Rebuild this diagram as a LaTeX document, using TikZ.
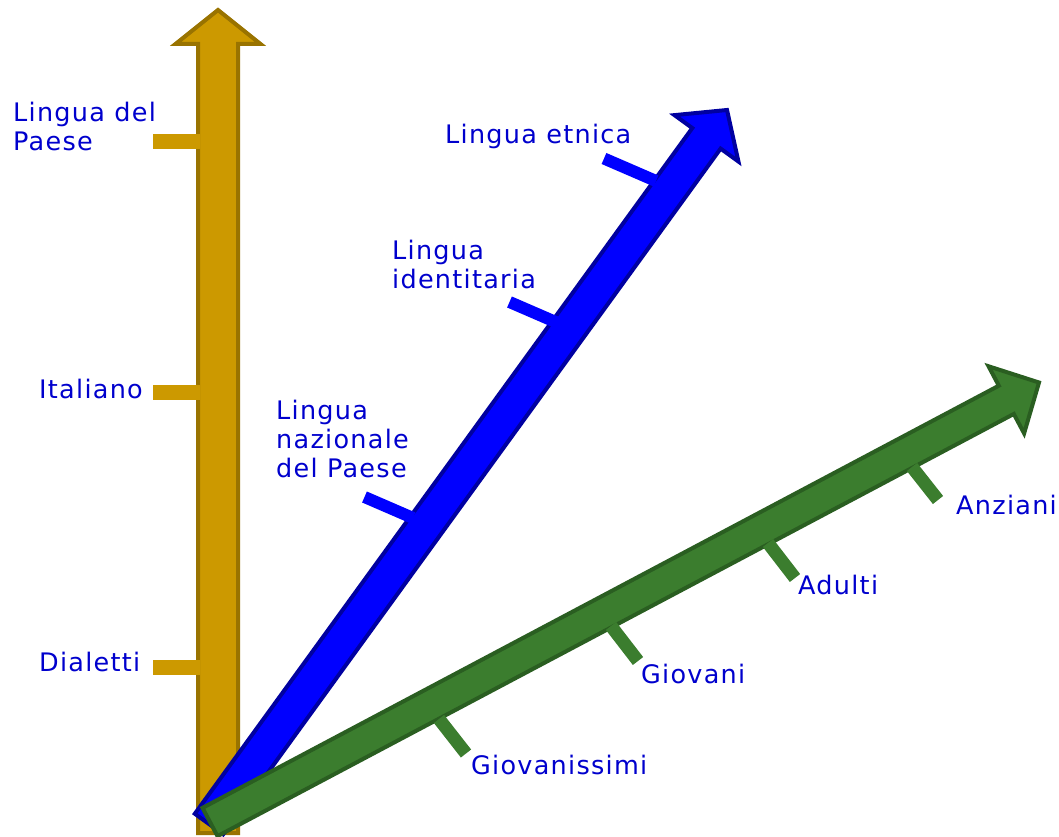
\documentclass[tikz,border=0pt]{standalone}
\usepackage{fontspec}
\setmainfont[LetterSpace=5]{DejaVu Sans}
\usetikzlibrary{calc}

\definecolor{goldfill}{RGB}{204,153,0}
\definecolor{goldline}{RGB}{153,115,0}
\definecolor{bluefill}{RGB}{0,0,255}
\definecolor{blueline}{RGB}{0,0,160}
\definecolor{greenfill}{RGB}{59,125,46}
\definecolor{greenline}{RGB}{42,94,33}
\definecolor{labelblue}{RGB}{0,0,205}

\tikzset{
  axislabel/.style={anchor=base west, inner sep=0pt, text=labelblue,
    font=\fontsize{25.5}{29}\selectfont, align=left},
  goldaxis/.style={fill=goldfill, draw=goldline, line width=4pt},
  blueaxis/.style={fill=bluefill, draw=blueline, line width=4pt},
  greenaxis/.style={fill=greenfill, draw=greenline, line width=4pt},
  goldtick/.style={draw=goldfill, line width=15pt},
  bluetick/.style={draw=bluefill, line width=12pt},
  greentick/.style={draw=greenfill, line width=13pt},
}

% thick block arrow: start, tip, half shaft, half head, head length, style
\newcommand{\fatarrow}[6]{%
  \coordinate (fa-base) at ($(#2)!#5!(#1)$);
  \draw[#6] ($(#1)!#3!90:(#2)$) -- ($(fa-base)!#3!-90:(#1)$)
    -- ($(fa-base)!#4!-90:(#1)$) -- (#2) -- ($(fa-base)!#4!90:(#1)$)
    -- ($(fa-base)!#3!90:(#1)$) -- ($(#1)!#3!-90:(#2)$) -- cycle;
}

\begin{document}
\begin{tikzpicture}[x=1pt, y=-1pt, line join=miter]
  \useasboundingbox (0,0) rectangle (1059,837);
  \coordinate (lingue-start) at (218,833);
  \coordinate (lingue-tip) at (218,10);
  \coordinate (ruoli-start) at (209,824);
  \coordinate (ruoli-tip) at (727,110);
  \coordinate (eta-start) at (210,822);
  \coordinate (eta-tip) at (1039,382.5);

  % vertical axis: languages
  \fatarrow{lingue-start}{lingue-tip}{20pt}{42.5pt}{34pt}{goldaxis}
  \foreach \y in {141.5, 392, 667}
    \draw[goldtick] (153,\y) -- (200,\y);
  \node[axislabel] (paese) at (13,151) {Lingua del\\Paese};
  \node[axislabel] (italiano) at (39,398) {Italiano};
  \node[axislabel] (dialetti) at (39,671) {Dialetti};

  % middle axis
  \fatarrow{ruoli-start}{ruoli-tip}{17.5pt}{39.5pt}{35pt}{blueaxis}
  \draw[bluetick] (604,158.5) -- (656,181);
  \draw[bluetick] (509.5,302) -- (558,323);
  \draw[bluetick] (364.5,497) -- (413,518);
  \node[axislabel] (etnica) at (445,144) {Lingua etnica};
  \node[axislabel] (identitaria) at (392,288) {Lingua\\identitaria};
  \node[axislabel] (nazionale) at (276,477) {Lingua\\nazionale\\del Paese};

  % lower axis: age groups
  \fatarrow{eta-start}{eta-tip}{16pt}{38pt}{37pt}{greenaxis}
  \draw[greentick] (439,719) -- (466,753.5);
  \draw[greentick] (611,626) -- (638,661);
  \draw[greentick] (768,543) -- (795,578);
  \draw[greentick] (912,467) -- (938,500);
  \node[axislabel] (giovanissimi) at (471,774) {Giovanissimi};
  \node[axislabel] (giovani) at (641,683) {Giovani};
  \node[axislabel] (adulti) at (798,594) {Adulti};
  \node[axislabel] (anziani) at (956,514) {Anziani};
\end{tikzpicture}
\end{document}
